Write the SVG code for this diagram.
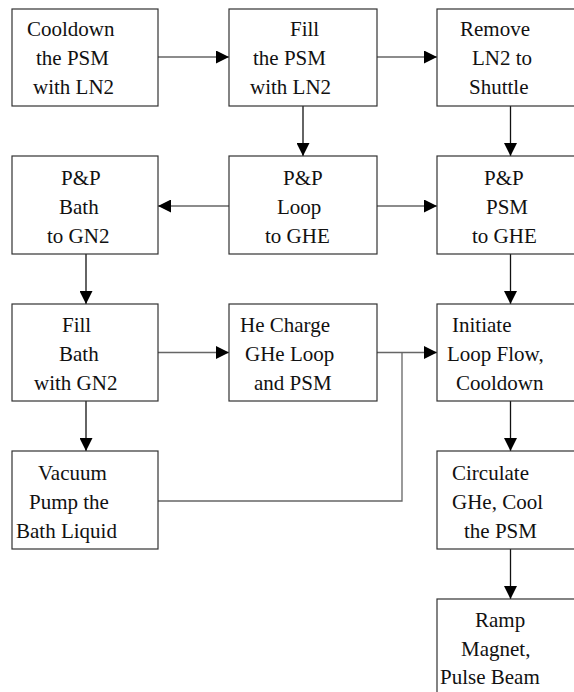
<svg xmlns="http://www.w3.org/2000/svg" width="574" height="692" viewBox="0 0 574 692">
<style>
.box{fill:#fff;stroke:#333;stroke-width:1.2}
text{font-family:'Liberation Serif','Times New Roman',serif;font-size:21px;fill:#111}
.h{stroke:#666;stroke-width:1.3;fill:none}
.v{stroke:#111;stroke-width:1.3;fill:none}
</style>
<defs>
<marker id="ah" viewBox="0 0 13 13" refX="13" refY="6.5" markerWidth="13" markerHeight="13" markerUnits="userSpaceOnUse" orient="auto">
<path d="M0,0 L13,6.5 L0,13 Z" fill="#000"/>
</marker>
</defs>
<rect width="574" height="692" fill="#fff"/>
<g id="connectors">
<line class="h" x1="158" y1="57" x2="229" y2="57" marker-end="url(#ah)"/>
<line class="h" x1="377" y1="57" x2="437" y2="57" marker-end="url(#ah)"/>
<line class="v" x1="303" y1="106" x2="303" y2="156" marker-end="url(#ah)"/>
<line class="v" x1="510.5" y1="106" x2="510.5" y2="156" marker-end="url(#ah)"/>
<line class="h" x1="229" y1="206" x2="158" y2="206" marker-end="url(#ah)"/>
<line class="h" x1="377" y1="206" x2="437" y2="206" marker-end="url(#ah)"/>
<line class="v" x1="86" y1="254" x2="86" y2="304" marker-end="url(#ah)"/>
<line class="v" x1="510.5" y1="254" x2="510.5" y2="304" marker-end="url(#ah)"/>
<line class="h" x1="158" y1="352.5" x2="229" y2="352.5" marker-end="url(#ah)"/>
<line class="h" x1="377" y1="352.5" x2="437" y2="352.5" marker-end="url(#ah)"/>
<polyline class="h" points="158,501 402,501 402,352.5"/>
<line class="v" x1="86" y1="401" x2="86" y2="451" marker-end="url(#ah)"/>
<line class="v" x1="510.5" y1="401" x2="510.5" y2="451" marker-end="url(#ah)"/>
<line class="v" x1="510.5" y1="549" x2="510.5" y2="599" marker-end="url(#ah)"/>
</g>
<g id="n1"><rect class="box" x="12" y="9" width="146" height="97"/>
<text x="27" y="36">Cooldown</text><text x="36" y="65">the PSM</text><text x="33" y="94">with LN2</text></g>
<g id="n2"><rect class="box" x="229" y="9" width="148" height="97"/>
<text x="290" y="36">Fill</text><text x="253" y="65">the PSM</text><text x="250" y="94">with LN2</text></g>
<g id="n3"><rect class="box" x="437" y="9" width="150" height="97"/>
<text x="460" y="36">Remove</text><text x="472" y="65">LN2 to</text><text x="469" y="94">Shuttle</text></g>
<g id="n4"><rect class="box" x="12" y="156" width="146" height="98"/>
<text x="61" y="185">P&amp;P</text><text x="59" y="214">Bath</text><text x="47" y="243">to GN2</text></g>
<g id="n5"><rect class="box" x="229" y="156" width="148" height="98"/>
<text x="283" y="185">P&amp;P</text><text x="277" y="214">Loop</text><text x="265" y="243">to GHE</text></g>
<g id="n6"><rect class="box" x="437" y="156" width="150" height="98"/>
<text x="484" y="185">P&amp;P</text><text x="486" y="214">PSM</text><text x="472" y="243">to GHE</text></g>
<g id="n7"><rect class="box" x="12" y="304" width="146" height="97"/>
<text x="62" y="332">Fill</text><text x="59" y="361">Bath</text><text x="34" y="390">with GN2</text></g>
<g id="n8"><rect class="box" x="229" y="304" width="148" height="97"/>
<text x="240" y="332">He Charge</text><text x="245" y="361">GHe Loop</text><text x="254" y="390">and PSM</text></g>
<g id="n9"><rect class="box" x="437" y="304" width="150" height="97"/>
<text x="452" y="332">Initiate</text><text x="447" y="361">Loop Flow,</text><text x="456" y="390">Cooldown</text></g>
<g id="n10"><rect class="box" x="12" y="451" width="146" height="98"/>
<text x="38" y="480">Vacuum</text><text x="29" y="509">Pump the</text><text x="16" y="538">Bath Liquid</text></g>
<g id="n11"><rect class="box" x="437" y="451" width="150" height="98"/>
<text x="452" y="480">Circulate</text><text x="452" y="509">GHe, Cool</text><text x="464" y="538">the PSM</text></g>
<g id="n12"><rect class="box" x="437" y="599" width="150" height="110"/>
<text x="475" y="627">Ramp</text><text x="461" y="656">Magnet,</text><text x="440" y="684">Pulse Beam</text></g>
</svg>
